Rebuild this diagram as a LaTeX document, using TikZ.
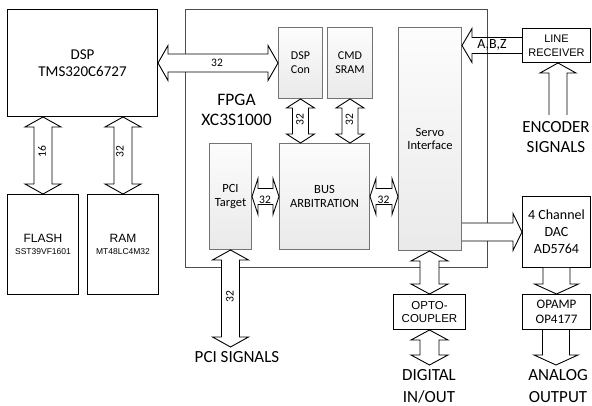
\documentclass[tikz,border=0pt]{standalone}
\usepackage{fontspec}
\setmainfont{Carlito}
\newfontfamily\arialf{Liberation Sans}
\usetikzlibrary{calc}

\tikzset{
  blk/.style={draw=black, line width=1pt, fill=white, inner sep=0pt, align=center, anchor=north west},
  ibox/.style={draw=black!55, line width=1pt, top color=gray!2, bottom color=gray!17, inner sep=0pt, align=center, anchor=north west},
  fpgabox/.style={draw=black!70, line width=1pt, inner sep=0pt, anchor=north west},
  barrow/.style={draw=black, line width=0.9pt, fill=white, line join=miter},
  oarrow/.style={draw=black, line width=0.9pt, line join=miter},
  lbl/.style={inner sep=0pt, font=\fontsize{11.5}{13}\selectfont},
  big/.style={inner sep=0pt, align=center, font=\fontsize{17}{22}\selectfont},
}

% horizontal double arrow: #1 left tip, #2 right tip, #3 shaft half, #4 head half, #5 head length
\newcommand\hdbl[5]{\draw[barrow] let \p1=(#1), \p2=(#2) in
 (\x1,\y1) -- (\x1+#5,\y1+#4) -- (\x1+#5,\y1+#3) -- (\x2-#5,\y1+#3) -- (\x2-#5,\y1+#4) -- (\x2,\y1)
 -- (\x2-#5,\y1-#4) -- (\x2-#5,\y1-#3) -- (\x1+#5,\y1-#3) -- (\x1+#5,\y1-#4) -- cycle;}
% vertical double arrow: #1 top tip, #2 bottom tip
\newcommand\vdbl[5]{\draw[barrow] let \p1=(#1), \p2=(#2) in
 (\x1,\y1) -- (\x1+#4,\y1-#5) -- (\x1+#3,\y1-#5) -- (\x1+#3,\y2+#5) -- (\x1+#4,\y2+#5) -- (\x1,\y2)
 -- (\x1-#4,\y2+#5) -- (\x1-#3,\y2+#5) -- (\x1-#3,\y1-#5) -- (\x1-#4,\y1-#5) -- cycle;}
% single arrow to the right: #1 start, #2 tip
\newcommand\rarr[5]{\path[barrow] let \p1=(#1), \p2=(#2) in
 (\x1,\y2+#3) -- (\x2-#5,\y2+#3) -- (\x2-#5,\y2+#4) -- (\x2,\y2) -- (\x2-#5,\y2-#4) -- (\x2-#5,\y2-#3) -- (\x1,\y2-#3);}
% single arrow to the left (no fill): #1 start, #2 tip
\newcommand\larr[5]{\path[oarrow] let \p1=(#1), \p2=(#2) in
 (\x1,\y2+#3) -- (\x2+#5,\y2+#3) -- (\x2+#5,\y2+#4) -- (\x2,\y2) -- (\x2+#5,\y2-#4) -- (\x2+#5,\y2-#3) -- (\x1,\y2-#3);}
% single arrow downwards: #1 start, #2 tip
\newcommand\darr[5]{\path[barrow] let \p1=(#1), \p2=(#2) in
 (\x2-#3,\y1) -- (\x2-#3,\y2+#5) -- (\x2-#4,\y2+#5) -- (\x2,\y2) -- (\x2+#4,\y2+#5) -- (\x2+#3,\y2+#5) -- (\x2+#3,\y1);}
% single arrow upwards: #1 start, #2 tip
\newcommand\uarr[5]{\path[barrow] let \p1=(#1), \p2=(#2) in
 (\x2-#3,\y1) -- (\x2-#3,\y2-#5) -- (\x2-#4,\y2-#5) -- (\x2,\y2) -- (\x2+#4,\y2-#5) -- (\x2+#3,\y2-#5) -- (\x2+#3,\y1);}

\begin{document}
\begin{tikzpicture}[x=1pt,y=-1pt]
\useasboundingbox (0,0) rectangle (592,406);

% FPGA frame
\node[fpgabox, minimum width=302pt, minimum height=258pt] (fpga) at (185,9) {};

% boxes
\node[blk, minimum width=150pt, minimum height=107pt, font=\fontsize{15}{17}\selectfont] (dsp) at (7,9) {DSP\\TMS320C6727};
\node[blk, minimum width=71pt, minimum height=100pt] (flash) at (7,194)
  {{\arialf\fontsize{12}{15}\selectfont FLASH}\\{\arialf\fontsize{8.5}{10}\selectfont SST39VF1601}};
\node[blk, minimum width=71pt, minimum height=100pt] (ram) at (87,194)
  {{\arialf\fontsize{12}{15}\selectfont RAM}\\{\arialf\fontsize{8.5}{10}\selectfont MT48LC4M32}};

\node[ibox, minimum width=44pt, minimum height=71pt, font=\fontsize{12}{14}\selectfont] (dspcon) at (278,27) {DSP\\Con};
\node[ibox, minimum width=45pt, minimum height=71pt, font=\fontsize{12}{14}\selectfont] (cmd) at (327,27) {CMD\\SRAM};
\node[ibox, minimum width=63pt, minimum height=223pt, font=\fontsize{12.5}{13.5}\selectfont] (servo) at (398,27) {Servo\\Interface};
\node[ibox, minimum width=90pt, minimum height=106pt, font=\fontsize{12.5}{14}\selectfont] (bus) at (279,143) {BUS\\ARBITRATION};
\node[ibox, minimum width=42pt, minimum height=106pt, font=\fontsize{12.5}{14}\selectfont] (pci) at (209,143) {PCI\\Target};

\node[blk, minimum width=68pt, minimum height=34pt, font=\arialf\fontsize{11}{14}\selectfont] (linerx) at (522,28) {LINE\\RECEIVER};
\node[blk, minimum width=68pt, minimum height=71pt, font=\fontsize{14}{17}\selectfont] (dac) at (522,196) {4 Channel\\DAC\\AD5764};
\node[blk, minimum width=72pt, minimum height=35pt, font=\arialf\fontsize{11.5}{13.5}\selectfont] (opto) at (393,294) {OPTO-\\COUPLER};
\node[blk, minimum width=68pt, minimum height=35pt, font=\fontsize{13}{15.5}\selectfont] (opamp) at (522,294) {OPAMP\\OP4177};

% big labels
\node[inner sep=0pt, align=center, font=\fontsize{17.5}{20}\selectfont] (fpgatxt) at (236.5,110) {FPGA\\XC3S1000};
\node[big, font=\fontsize{17}{20}\selectfont] (enc) at (556,137) {ENCODER\\SIGNALS};
\node[big] (pcisig) at (237,357) {PCI SIGNALS};
\node[big] (dio) at (429,386) {DIGITAL\\IN/OUT};
\node[big] (aout) at (558,386) {ANALOG\\OUTPUT};

% free ends
\coordinate (pcitip) at (230,347);
\coordinate (diotip) at (429,365);
\coordinate (aouttip) at (556,365);
\coordinate (encstart) at (558,115);

% arrows
\hdbl{dsp.east}{dspcon.west}{9pt}{17.5pt}{10pt}
\vdbl{dsp.south -| flash.north}{flash.north}{9pt}{18pt}{10pt}
\vdbl{dsp.south -| ram.north}{ram.north}{9pt}{18pt}{10pt}
\vdbl{dspcon.south}{bus.north -| dspcon.south}{8pt}{14pt}{9pt}
\vdbl{cmd.south}{bus.north -| cmd.south}{8pt}{14pt}{9pt}
\hdbl{pci.east}{bus.west}{8pt}{18pt}{6pt}
\hdbl{bus.east}{bus.east -| servo.west}{8pt}{18pt}{6pt}
\vdbl{pci.south}{pcitip}{9pt}{18pt}{10pt}
\vdbl{servo.south -| opto.north}{opto.north}{9.5pt}{18.5pt}{10pt}
\vdbl{opto.south}{diotip}{9.5pt}{18.5pt}{10pt}
\rarr{servo.east |- dac.west}{dac.west}{9pt}{18.5pt}{9pt}
\darr{dac.south}{opamp.north}{13.5pt}{22pt}{10pt}
\darr{opamp.south}{aouttip}{13.5pt}{22pt}{10pt}
\uarr{encstart}{encstart |- linerx.south}{9pt}{18pt}{10pt}
\larr{linerx.west}{linerx.west -| servo.east}{8pt}{17pt}{10pt}

% arrow labels
\node[lbl] (l1) at (217,63) {32};
\node[lbl, rotate=90] (l2) at (42,152) {16};
\node[lbl, rotate=90] (l3) at (120,152) {32};
\node[lbl, rotate=90] (l4) at (300,120) {32};
\node[lbl, rotate=90] (l5) at (349.5,120) {32};
\node[lbl] (l6) at (265,200) {32};
\node[lbl] (l7) at (383.5,200) {32};
\node[lbl, rotate=90] (l8) at (230,297) {32};
\node[inner sep=0pt, font=\fontsize{14}{16}\selectfont] (abz) at (492,45) {A,B,Z};
\end{tikzpicture}
\end{document}
